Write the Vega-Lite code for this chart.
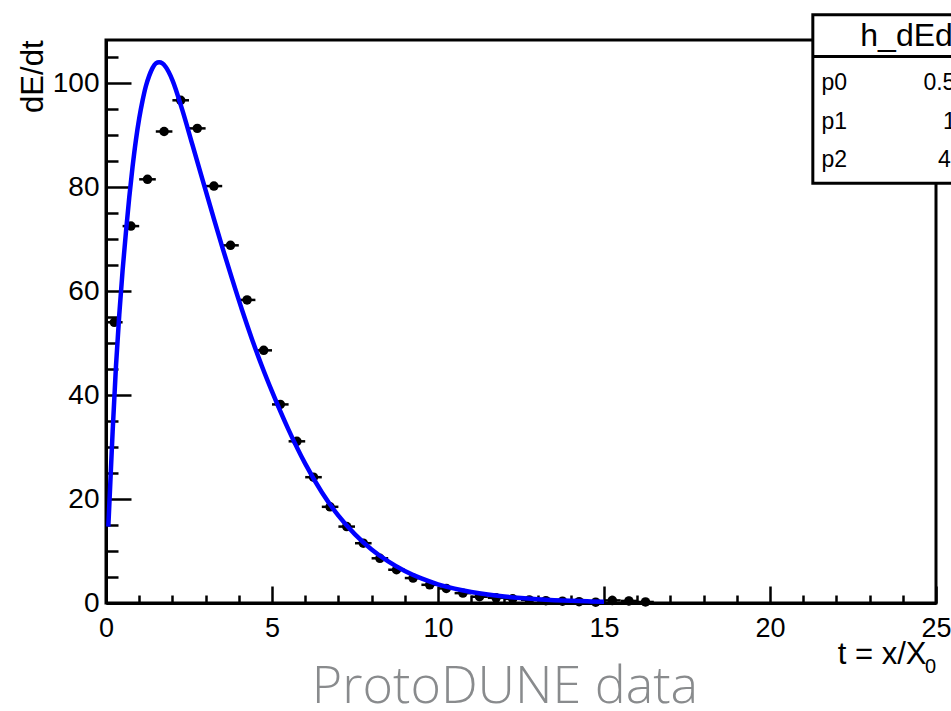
{
  "$schema": "https://vega.github.io/schema/vega-lite/v6.json",
  "width": 830,
  "height": 563,
  "autosize": {"type": "none"},
  "padding": {"left": 106, "top": 40, "right": 15, "bottom": 108},
  "background": "white",
  "config": {
    "view": {"stroke": "black", "strokeWidth": 3},
    "font": "Liberation Sans",
    "axis": {"labelOverlap": false, "labelFlush": false, "labelBound": false, "grid": false},
    "axisX": {
      "tickWidth": 2.5, "tickColor": "black", "domainColor": "black", "domainWidth": 3,
      "labelFont": "Liberation Sans", "labelFontSize": 27, "labelColor": "black", "labelPadding": 29,
      "titleFont": "Liberation Sans", "titleFontSize": 31, "titleFontWeight": "normal", "titleColor": "black",
      "titleAnchor": "end", "titleAlign": "right", "titleBaseline": "alphabetic", "titleX": 820, "titleY": 60
    },
    "axisY": {
      "tickWidth": 2.5, "tickColor": "black", "domainColor": "black", "domainWidth": 3,
      "labelFont": "Liberation Sans", "labelFontSize": 28, "labelColor": "black", "labelPadding": 32,
      "titleFont": "Liberation Sans", "titleFontSize": 31, "titleFontWeight": "normal", "titleColor": "black",
      "titleAngle": 270, "titleAlign": "right", "titleBaseline": "alphabetic", "titleX": -64, "titleY": 0
    },
    "text": {"font": "Liberation Sans", "align": "left", "baseline": "alphabetic", "color": "black", "clip": false}
  },
  "datasets": {
    "points": [
      {"t": 0.25, "v": 54.0, "dt": 0.25, "dv": 0.4},
      {"t": 0.75, "v": 72.5, "dt": 0.25, "dv": 0.4},
      {"t": 1.25, "v": 81.5, "dt": 0.25, "dv": 0.4},
      {"t": 1.75, "v": 90.7, "dt": 0.25, "dv": 0.4},
      {"t": 2.25, "v": 96.7, "dt": 0.25, "dv": 0.4},
      {"t": 2.75, "v": 91.3, "dt": 0.25, "dv": 0.4},
      {"t": 3.25, "v": 80.2, "dt": 0.25, "dv": 0.4},
      {"t": 3.75, "v": 68.8, "dt": 0.25, "dv": 0.4},
      {"t": 4.25, "v": 58.3, "dt": 0.25, "dv": 0.4},
      {"t": 4.75, "v": 48.6, "dt": 0.25, "dv": 0.4},
      {"t": 5.25, "v": 38.2, "dt": 0.25, "dv": 0.4},
      {"t": 5.75, "v": 31.1, "dt": 0.25, "dv": 0.4},
      {"t": 6.25, "v": 24.2, "dt": 0.25, "dv": 0.4},
      {"t": 6.75, "v": 18.5, "dt": 0.25, "dv": 0.4},
      {"t": 7.25, "v": 14.7, "dt": 0.25, "dv": 0.4},
      {"t": 7.75, "v": 11.5, "dt": 0.25, "dv": 0.4},
      {"t": 8.25, "v": 8.6, "dt": 0.25, "dv": 0.4},
      {"t": 8.75, "v": 6.4, "dt": 0.25, "dv": 0.4},
      {"t": 9.25, "v": 4.8, "dt": 0.25, "dv": 0.4},
      {"t": 9.75, "v": 3.5, "dt": 0.25, "dv": 0.4},
      {"t": 10.25, "v": 2.8, "dt": 0.25, "dv": 0.4},
      {"t": 10.75, "v": 1.9, "dt": 0.25, "dv": 0.4},
      {"t": 11.25, "v": 1.2, "dt": 0.25, "dv": 0.4},
      {"t": 11.75, "v": 1.0, "dt": 0.25, "dv": 0.4},
      {"t": 12.25, "v": 0.8, "dt": 0.25, "dv": 0.4},
      {"t": 12.75, "v": 0.6, "dt": 0.25, "dv": 0.4},
      {"t": 13.25, "v": 0.45, "dt": 0.25, "dv": 0.4},
      {"t": 13.75, "v": 0.35, "dt": 0.25, "dv": 0.4},
      {"t": 14.25, "v": 0.25, "dt": 0.25, "dv": 0.4},
      {"t": 14.75, "v": 0.15, "dt": 0.25, "dv": 0.4},
      {"t": 15.25, "v": 0.5, "dt": 0.25, "dv": 0.9},
      {"t": 15.75, "v": 0.4, "dt": 0.25, "dv": 0.8},
      {"t": 16.25, "v": 0.2, "dt": 0.25, "dv": 0.6}
    ],
    "curve": [
      {"t": 0.07, "v": 14.7},
      {"t": 0.12, "v": 21.7},
      {"t": 0.2, "v": 33.0},
      {"t": 0.3, "v": 45.5},
      {"t": 0.4, "v": 55.5},
      {"t": 0.5, "v": 64.0},
      {"t": 0.6, "v": 71.3},
      {"t": 0.7, "v": 78.0},
      {"t": 0.8, "v": 83.9},
      {"t": 0.9, "v": 89.0},
      {"t": 1.0, "v": 93.2},
      {"t": 1.1, "v": 96.6},
      {"t": 1.2, "v": 99.4},
      {"t": 1.3, "v": 101.4},
      {"t": 1.4, "v": 102.9},
      {"t": 1.5, "v": 103.8},
      {"t": 1.6, "v": 104.0},
      {"t": 1.7, "v": 103.8},
      {"t": 1.8, "v": 103.1},
      {"t": 2.0, "v": 100.6},
      {"t": 2.3, "v": 94.8},
      {"t": 2.6, "v": 88.2},
      {"t": 2.9, "v": 81.6},
      {"t": 3.2, "v": 75.0},
      {"t": 3.5, "v": 68.5},
      {"t": 3.8, "v": 62.3},
      {"t": 4.1, "v": 56.3},
      {"t": 4.4, "v": 50.7},
      {"t": 4.7, "v": 45.5},
      {"t": 5.0, "v": 40.7},
      {"t": 5.5, "v": 33.3},
      {"t": 6.0, "v": 26.8},
      {"t": 6.5, "v": 21.3},
      {"t": 7.0, "v": 16.8},
      {"t": 7.5, "v": 13.2},
      {"t": 8.0, "v": 10.3},
      {"t": 8.5, "v": 8.0},
      {"t": 9.0, "v": 6.15},
      {"t": 9.5, "v": 4.72},
      {"t": 10.0, "v": 3.6},
      {"t": 10.5, "v": 2.76},
      {"t": 11.0, "v": 2.12},
      {"t": 11.5, "v": 1.62},
      {"t": 12.0, "v": 1.24},
      {"t": 12.5, "v": 0.95},
      {"t": 13.0, "v": 0.72},
      {"t": 13.5, "v": 0.55},
      {"t": 14.0, "v": 0.42},
      {"t": 14.5, "v": 0.32},
      {"t": 15.0, "v": 0.24}
    ]
  },
  "layer": [
    {
      "encoding": {
        "x": {
          "field": "t", "type": "quantitative", "title": "t = x/X",
          "scale": {"domain": [0, 25], "nice": false, "zero": false},
          "axis": {
            "values": [0,1,2,3,4,5,6,7,8,9,10,11,12,13,14,15,16,17,18,19,20,21,22,23,24,25],
            "labelExpr": "datum.value % 5 === 0 ? datum.label : ''",
            "tickSize": {"condition": {"test": "datum.value % 5 === 0", "value": -17}, "value": -8},
            "labelOverlap": false
          }
        },
        "y": {
          "field": "v", "type": "quantitative", "title": "dE/dt",
          "scale": {"domain": [0, 108.3], "nice": false, "zero": false},
          "axis": {
            "values": [0,5,10,15,20,25,30,35,40,45,50,55,60,65,70,75,80,85,90,95,100,105],
            "labelExpr": "datum.value % 20 === 0 ? datum.label : ''",
            "tickSize": {"condition": {"test": "datum.value % 20 === 0", "value": -25}, "value": -12},
            "labelOverlap": false
          }
        }
      },
      "layer": [
        {
          "data": {"name": "points"},
          "mark": {"type": "errorbar", "ticks": false, "rule": {"color": "black", "strokeWidth": 2.5}},
          "encoding": {"xError": {"field": "dt"}}
        },
        {
          "data": {"name": "points"},
          "mark": {"type": "errorbar", "ticks": false, "rule": {"color": "black", "strokeWidth": 2.5}},
          "encoding": {"yError": {"field": "dv"}}
        },
        {
          "data": {"name": "points"},
          "mark": {"type": "circle", "color": "black", "opacity": 1, "size": 90}
        },
        {
          "data": {"name": "curve"},
          "mark": {"type": "line", "color": "#0000ff", "strokeWidth": 4.5, "interpolate": "monotone"}
        }
      ]
    },
    {
      "data": {"values": [{}]},
      "encoding": {
        "x": {"datum": 0, "type": "quantitative",
          "axis": {
            "values": [0,1,2,3,4,5,6,7,8,9,10,11,12,13,14,15,16,17,18,19,20,21,22,23,24,25],
            "labelExpr": "datum.value % 5 === 0 ? datum.label : ''",
            "tickSize": {"condition": {"test": "datum.value % 5 === 0", "value": -17}, "value": -8},
            "labelOverlap": false
          }
        },
        "y": {"datum": 0, "type": "quantitative",
          "axis": {
            "values": [0,5,10,15,20,25,30,35,40,45,50,55,60,65,70,75,80,85,90,95,100,105],
            "labelExpr": "datum.value % 20 === 0 ? datum.label : ''",
            "tickSize": {"condition": {"test": "datum.value % 20 === 0", "value": -25}, "value": -12},
            "labelOverlap": false
          }
        }
      },
      "layer": [
        {
          "mark": {"type": "rect", "fill": "white", "stroke": "black", "strokeWidth": 3, "clip": false},
          "encoding": {
            "x": {"datum": 21.29, "type": "quantitative"},
            "x2": {"datum": 26.5},
            "y": {"datum": 80.76, "type": "quantitative"},
            "y2": {"datum": 113.14}
          }
        },
        {
          "mark": {"type": "rule", "stroke": "black", "strokeWidth": 3, "clip": false},
          "encoding": {
            "x": {"datum": 21.29, "type": "quantitative"},
            "x2": {"datum": 26.5},
            "y": {"datum": 105.12, "type": "quantitative"}
          }
        },
        {
          "mark": {"type": "text", "text": "h_dEdt", "fontSize": 32},
          "encoding": {
            "x": {"datum": 22.72, "type": "quantitative"},
            "y": {"datum": 107.18, "type": "quantitative"}
          }
        },
        {
          "mark": {"type": "text", "text": "p0", "fontSize": 23},
          "encoding": {
            "x": {"datum": 21.55, "type": "quantitative"},
            "y": {"datum": 98.71, "type": "quantitative"}
          }
        },
        {
          "mark": {"type": "text", "text": "p1", "fontSize": 23},
          "encoding": {
            "x": {"datum": 21.55, "type": "quantitative"},
            "y": {"datum": 91.2, "type": "quantitative"}
          }
        },
        {
          "mark": {"type": "text", "text": "p2", "fontSize": 23},
          "encoding": {
            "x": {"datum": 21.55, "type": "quantitative"},
            "y": {"datum": 83.95, "type": "quantitative"}
          }
        },
        {
          "mark": {"type": "text", "text": "0.5", "fontSize": 23},
          "encoding": {
            "x": {"datum": 24.62, "type": "quantitative"},
            "y": {"datum": 98.71, "type": "quantitative"}
          }
        },
        {
          "mark": {"type": "text", "text": "1", "fontSize": 23},
          "encoding": {
            "x": {"datum": 25.21, "type": "quantitative"},
            "y": {"datum": 91.2, "type": "quantitative"}
          }
        },
        {
          "mark": {"type": "text", "text": "4", "fontSize": 23},
          "encoding": {
            "x": {"datum": 25.06, "type": "quantitative"},
            "y": {"datum": 83.95, "type": "quantitative"}
          }
        },
        {
          "mark": {"type": "text", "text": "0", "fontSize": 20, "align": "right"},
          "encoding": {
            "x": {"datum": 25.0, "type": "quantitative"},
            "y": {"datum": -13.5, "type": "quantitative"}
          }
        },
        {
          "mark": {"type": "text", "text": "ProtoDUNE data", "font": "Open Sans", "fontWeight": 300, "fontSize": 52, "color": "#898b8d"},
          "encoding": {
            "x": {"datum": 6.2, "type": "quantitative"},
            "y": {"datum": -19.24, "type": "quantitative"}
          }
        }
      ]
    }
  ]
}
